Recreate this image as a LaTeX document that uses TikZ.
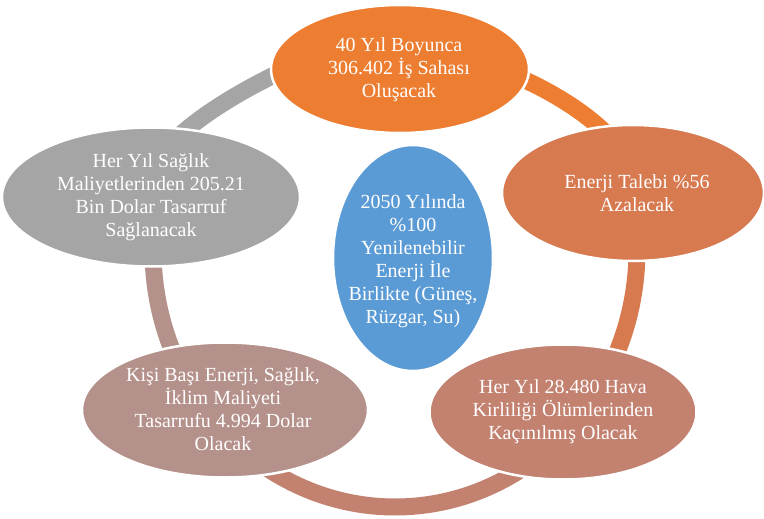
\documentclass[tikz,border=0pt]{standalone}
\usepackage{fontspec}
\setmainfont{Liberation Serif}
\usetikzlibrary{shapes.geometric}
\definecolor{cTop}{HTML}{ED7D31}
\definecolor{cRight}{HTML}{D77A50}
\definecolor{cBR}{HTML}{C38170}
\definecolor{cBL}{HTML}{B5918B}
\definecolor{cLeft}{HTML}{A5A5A5}
\definecolor{cBlue}{HTML}{5B9BD5}
\tikzset{
  ringseg/.style={line width=17pt},
  blob/.style={ellipse, draw=white, line width=2.5pt, inner sep=0pt},
  lbl/.style={text=white, align=center, inner sep=0pt, font=\fontsize{20}{23}\selectfont},
}
\begin{document}
\begin{tikzpicture}[x=1pt,y=-1pt]
\useasboundingbox (0,0) rectangle (764,519);
\fill[white] (0,0) rectangle (764,519);
\coordinate (ringC) at (395,250);
% ring segments (coordinates in pixels, y downwards)
\draw[ringseg, cLeft] (178,137) .. controls (205,112) and (250,85) .. (298,64);
\draw[ringseg, cTop]  (502,71) .. controls (530,80) and (585,108) .. (614,142);
\draw[ringseg, cRight] (ringC) ++(-3:242 and 257) arc[start angle=-3, end angle=28, x radius=242, y radius=257];
\draw[ringseg, cBR]    (ringC) ++(45:242 and 257) arc[start angle=45, end angle=135, x radius=242, y radius=257];
\draw[ringseg, cBL]    (ringC) ++(150:242 and 257) arc[start angle=150, end angle=183, x radius=242, y radius=257];
% ellipses
\node[blob, fill=cTop, minimum width=258pt, minimum height=128pt] (top) at (400,69) {};
\node[blob, fill=cRight, minimum width=262pt, minimum height=136pt] (right) at (633,193) {};
\node[blob, fill=cLeft, minimum width=298pt, minimum height=139pt] (left) at (151,197) {};
\node[blob, fill=cBL, minimum width=286pt, minimum height=135pt] (bl) at (225,410) {};
\node[blob, fill=cBR, minimum width=267pt, minimum height=135pt] (br) at (563,412) {};
\node[blob, fill=cBlue, minimum width=160pt, minimum height=226pt] (center) at (413,258) {};
% texts
\node[lbl] (topT) at (399,70) {40 Yıl Boyunca\\306.402 İş Sahası\\Oluşacak};
\node[lbl] (rightT) at (637,193) {Enerji Talebi \%56\\Azalacak};
\node[lbl] (leftT) at (left.center) {Her Yıl Sağlık\\Maliyetlerinden 205.21\\Bin Dolar Tasarruf\\Sağlanacak};
\node[lbl] (centerT) at (413,261) {2050 Yılında\\\%100\\Yenilenebilir\\Enerji İle\\Birlikte (Güneş,\\Rüzgar, Su)};
\node[lbl] (blT) at (223,409) {Kişi Başı Enerji, Sağlık,\\İklim Maliyeti\\Tasarrufu 4.994 Dolar\\Olacak};
\node[lbl] (brT) at (br.center) {Her Yıl 28.480 Hava\\Kirliliği Ölümlerinden\\Kaçınılmış Olacak};
\end{tikzpicture}
\end{document}
